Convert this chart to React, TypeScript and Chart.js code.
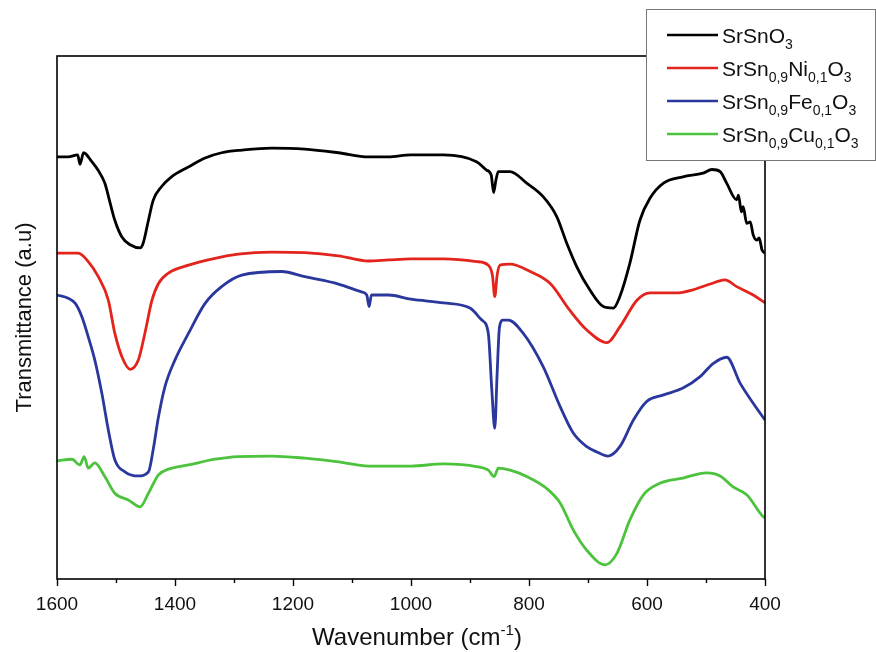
import React, { useEffect, useRef } from "react";
import { Chart, registerables } from "chart.js";

Chart.register(...registerables);

const FONT = '"Liberation Sans", Arial, Helvetica, sans-serif';

// ---- data (wavenumber in cm-1, transmittance in a.u.) ----
const blackWn = [1600,1581,1565,1561,1555,1541,1530,1519,1510,1502,1490,1476,1459,1454,1445,1437,1423,1406,1377,1349,1321,1287,1236,1180,1123,1072,1039,1000,945,889,872,864,860,856,852,832,804,776,753,736,719,697,674,657,646,629,612,595,572,539,505,490,476,465,448,445,440,437,431,425,420,414,410,405,400];
const blackT = [80.7,80.7,81.1,79.3,81.5,79.8,78.1,75.7,71.9,68.6,65.4,63.9,63.3,64.2,68.6,72.4,75.0,76.9,78.8,80.5,81.5,82.0,82.4,82.2,81.5,80.7,80.7,81.1,81.1,79.8,78.2,77.2,73.9,76.3,77.9,77.9,75.7,73.1,69.3,64.2,59.7,55.3,52.1,51.8,54.0,60.4,68.6,72.8,75.7,76.9,77.6,78.3,77.9,75.7,72.5,73.4,70.2,71.2,68.0,68.3,65.8,64.8,65.2,62.9,62.3];

const redWn = [1600,1564,1547,1530,1513,1502,1490,1476,1462,1451,1439,1428,1411,1377,1332,1293,1236,1180,1123,1072,1038,1000,945,889,869,862,858,854,849,832,798,764,731,702,668,646,617,595,550,522,493,468,448,420,400];
const redT = [62.3,62.3,60.7,57.8,53.3,47.0,42.5,40.1,41.9,47.0,53.3,56.5,58.5,60.0,61.3,62.1,62.5,62.4,61.8,60.8,61.0,61.2,61.2,60.7,60.0,58.1,54.0,58.1,60.0,60.2,58.8,56.5,51.4,47.6,45.2,48.2,53.3,54.7,54.7,55.3,56.4,57.2,55.9,54.3,52.8];

const blueWn = [1600,1581,1569,1558,1547,1536,1524,1513,1502,1485,1462,1445,1437,1428,1417,1400,1377,1349,1321,1287,1219,1180,1123,1084,1075,1071,1067,1038,1000,945,900,880,869,863,858,854,850,844,835,810,776,747,725,702,685,666,646,623,601,572,539,510,488,465,442,420,400];
const blueT = [54.3,53.7,52.7,50.2,46.3,41.9,35.5,28.5,22.8,20.5,19.7,20.5,24.7,31.0,36.8,41.9,47.0,52.7,55.9,58.1,58.8,57.8,56.4,54.9,54.3,52.1,54.3,54.3,53.5,52.8,51.8,49.5,47.0,36.1,28.8,39.3,48.2,49.5,49.5,47.0,40.6,32.9,27.9,25.3,24.3,23.5,25.3,30.4,33.9,35.2,36.5,38.7,41.2,42.4,37.4,33.6,30.4];

const greenWn = [1600,1575,1561,1554,1547,1536,1519,1502,1479,1459,1445,1428,1411,1377,1332,1293,1236,1180,1123,1072,1000,945,889,869,859,852,832,804,770,747,725,702,671,651,629,606,578,539,499,476,454,431,403,400];
const greenT = [22.6,22.9,21.8,23.4,21.2,22.2,19.6,16.4,15.1,13.8,16.4,19.9,21.0,21.8,22.9,23.4,23.5,23.1,22.4,21.6,21.6,22.0,21.5,20.8,19.6,21.2,20.8,19.6,17.3,14.5,9.4,5.5,2.7,4.9,11.3,16.1,18.3,19.3,20.3,19.7,17.6,16.1,11.9,11.7];

// legend labels: segments [text, isSubscript]
const legendLabels: [string, boolean][][] = [
  [["SrSnO", false], ["3", true]],
  [["SrSn", false], ["0,9", true], ["Ni", false], ["0,1", true], ["O", false], ["3", true]],
  [["SrSn", false], ["0,9", true], ["Fe", false], ["0,1", true], ["O", false], ["3", true]],
  [["SrSn", false], ["0,9", true], ["Cu", false], ["0,1", true], ["O", false], ["3", true]],
];
const seriesColors = ["#000000", "#e3241c", "#2a379c", "#4cc23d"];

const majorTicks = [1600, 1400, 1200, 1000, 800, 600, 400];
const minorTicks = [1500, 1300, 1100, 900, 700, 500];
const xTitle = "Wavenumber (cm";
const xTitleSup = "-1";
const yTitle = "Transmittance (a.u)";

const toPts = (xs: number[], ys: number[]) => xs.map((x, i) => ({ x, y: ys[i] }));

const decorPlugin = {
  id: "decor",
  afterDraw(chart: any) {
    const { ctx, chartArea: a, scales } = chart;
    const xs = scales.x;
    ctx.save();
    // frame
    ctx.strokeStyle = "#000";
    ctx.lineWidth = 1.6;
    ctx.strokeRect(a.left, a.top, a.right - a.left, a.bottom - a.top);
    // ticks
    ctx.lineWidth = 1.4;
    majorTicks.forEach((v) => {
      const p = Math.round(xs.getPixelForValue(v)) + 0.5;
      ctx.beginPath();
      ctx.moveTo(p, a.bottom);
      ctx.lineTo(p, a.bottom + 7);
      ctx.stroke();
    });
    minorTicks.forEach((v) => {
      const p = Math.round(xs.getPixelForValue(v)) + 0.5;
      ctx.beginPath();
      ctx.moveTo(p, a.bottom);
      ctx.lineTo(p, a.bottom + 4);
      ctx.stroke();
    });
    // x title with superscript
    ctx.fillStyle = "#111";
    ctx.textBaseline = "alphabetic";
    ctx.textAlign = "left";
    ctx.font = `24px ${FONT}`;
    const w1 = ctx.measureText(xTitle).width;
    ctx.font = `15px ${FONT}`;
    const w2 = ctx.measureText(xTitleSup).width;
    ctx.font = `24px ${FONT}`;
    const w3 = ctx.measureText(")").width;
    const total = w1 + w2 + w3;
    let tx = (a.left + a.right) / 2 + 6 - total / 2;
    const ty = 645;
    ctx.fillText(xTitle, tx, ty);
    tx += w1;
    ctx.font = `15px ${FONT}`;
    ctx.fillText(xTitleSup, tx, ty - 10);
    tx += w2;
    ctx.font = `24px ${FONT}`;
    ctx.fillText(")", tx, ty);
    // y title
    ctx.save();
    ctx.translate(31, (a.top + a.bottom) / 2);
    ctx.rotate(-Math.PI / 2);
    ctx.textAlign = "center";
    ctx.font = `22px ${FONT}`;
    ctx.fillText(yTitle, 0, 0);
    ctx.restore();
    // legend
    const bx = 646.5, by = 9.5, bw = 229, bh = 151;
    ctx.fillStyle = "#fff";
    ctx.fillRect(bx, by, bw, bh);
    ctx.strokeStyle = "#777";
    ctx.lineWidth = 1;
    ctx.strokeRect(bx, by, bw, bh);
    legendLabels.forEach((segs, i) => {
      const ly = 35 + i * 33;
      ctx.strokeStyle = seriesColors[i];
      ctx.lineWidth = 2.5;
      ctx.beginPath();
      ctx.moveTo(667, ly);
      ctx.lineTo(718, ly);
      ctx.stroke();
      let cx = 722;
      ctx.fillStyle = "#111";
      segs.forEach(([t, sub]) => {
        ctx.font = sub ? `14px ${FONT}` : `21px ${FONT}`;
        ctx.fillText(t, cx, sub ? ly + 14 : ly + 8);
        cx += ctx.measureText(t).width;
      });
    });
    ctx.restore();
  },
};

export default function App() {
  const ref = useRef<HTMLCanvasElement | null>(null);
  useEffect(() => {
    if (!ref.current) return;
    const mk = (label: string, xs: number[], ys: number[], color: string) => ({
      label,
      data: toPts(xs, ys),
      borderColor: color,
      backgroundColor: color,
      borderWidth: 2.8,
      pointRadius: 0,
      cubicInterpolationMode: "monotone" as const,
      fill: false,
    });
    const chart = new Chart(ref.current, {
      type: "line",
      data: {
        datasets: [
          mk("SrSnO3", blackWn, blackT, seriesColors[0]),
          mk("SrSn0,9Ni0,1O3", redWn, redT, seriesColors[1]),
          mk("SrSn0,9Fe0,1O3", blueWn, blueT, seriesColors[2]),
          mk("SrSn0,9Cu0,1O3", greenWn, greenT, seriesColors[3]),
        ],
      },
      options: {
        animation: false,
        responsive: false,
        devicePixelRatio: 1,
        layout: { padding: { left: 57, right: 111, top: 56, bottom: 0 } },
        plugins: { legend: { display: false }, tooltip: { enabled: false } },
        scales: {
          x: {
            type: "linear",
            min: 400,
            max: 1600,
            reverse: true,
            afterFit: (s: any) => {
              s.height = 73;
            },
            afterBuildTicks: (s: any) => {
              s.ticks = majorTicks.map((v) => ({ value: v }));
            },
            grid: { display: true, drawOnChartArea: false, drawTicks: false },
            border: { display: false },
            ticks: {
              color: "#111",
              padding: 14,
              maxRotation: 0,
              autoSkip: false,
              font: { family: FONT, size: 19 },
              callback: (v: any) => String(v),
            },
          },
          y: { display: false, min: 0, max: 100 },
        },
      },
      plugins: [decorPlugin],
    });
    return () => chart.destroy();
  }, []);
  return (
    <div style={{ position: "fixed", left: 0, top: 0, width: 876, height: 652, background: "#fff" }}>
      <canvas ref={ref} width={876} height={652} style={{ width: 876, height: 652, display: "block" }} />
    </div>
  );
}
